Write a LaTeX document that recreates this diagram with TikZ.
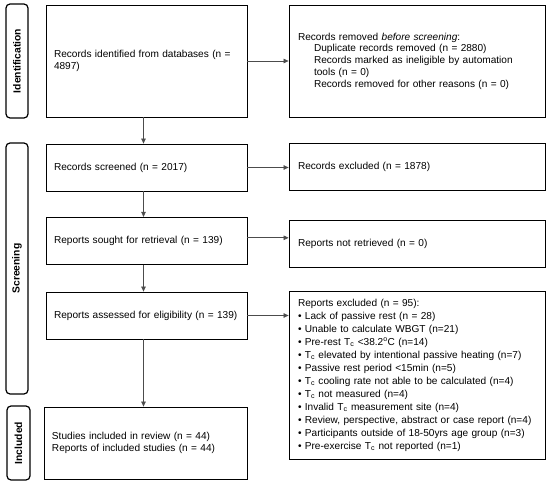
\documentclass[tikz,border=0pt]{standalone}
\usepackage{fontspec}
\setmainfont{Liberation Sans}
\usetikzlibrary{arrows.meta}

\begin{document}
\begin{tikzpicture}[
    x=1pt, y=-1pt,
    box_l/.style={draw,rectangle,line width=0.8pt,minimum width=201pt,text width=185pt,
      inner xsep=8pt,align=left,font=\fontsize{10.1}{12.3}\selectfont},
    box_r/.style={draw,rectangle,line width=0.8pt,minimum width=256pt,text width=238pt,
      inner xsep=9pt,align=left,font=\fontsize{10.1}{11.8}\selectfont},
    phase/.style={draw,rectangle,rounded corners=4pt,line width=1.2pt,rotate=90,
      minimum height=22pt,inner sep=0pt,font=\fontsize{10.3}{12}\selectfont\bfseries},
    link/.style={draw=black!70,line width=0.7pt,-{Triangle[length=5pt,width=4.5pt]}}
  ]
    \useasboundingbox (0,0) rectangle (550,487);

    % phases
    \node[phase,minimum width=114pt] (ph_id) at (17,61) {Identification};
    \node[phase,minimum width=251pt] (ph_scr) at (17,268.5) {Screening};
    \node[phase,minimum width=74pt,minimum height=23pt] (ph_inc) at (18.5,443) {Included};

    % main column
    \node[box_l,minimum height=112pt] (ident) at (146.5,61)
      {Records identified from databases (n =\\4897)};
    \node[box_l,minimum height=47pt] (screened) at (146.5,167.5)
      {Records screened (n = 2017)};
    \node[box_l,minimum height=47pt] (sought) at (146.5,240.8)
      {Reports sought for retrieval (n = 139)};
    \node[box_l,minimum height=47pt] (assessed) at (146.5,315.5)
      {Reports assessed for eligibility (n = 139)};
    \node[box_l,minimum height=72pt,minimum width=203pt,text width=187pt] (included) at (145.5,443)
      {Studies included in review (n = 44)\\Reports of included studies (n = 44)};

    % side column
    \node[box_r,minimum height=112pt] (removed) at (417,61)
      {Records removed \textit{before screening}:\\
       \hspace*{16pt}Duplicate records removed (n = 2880)\\
       \hspace*{16pt}Records marked as ineligible by automation\\
       \hspace*{16pt}tools (n = 0)\\
       \hspace*{16pt}Records removed for other reasons (n = 0)};
    \node[box_r,minimum height=47pt] (rec_exc) at (417,166.5)
      {Records excluded (n = 1878)};
    \node[box_r,minimum height=47pt] (not_ret) at (417,243.5)
      {Reports not retrieved (n = 0)};
    \node[box_r,minimum height=168pt,font=\fontsize{10.1}{13}\selectfont] (rep_exc) at (417,375)
      {Reports excluded (n = 95):\\
       \textbullet\ Lack of passive rest (n = 28)\\
       \textbullet\ Unable to calculate WBGT (n=21)\\
       \textbullet\ Pre-rest T\textsubscript{c} <38.2\textsuperscript{o}C (n=14)\\
       \textbullet\ T\textsubscript{c} elevated by intentional passive heating (n=7)\\
       \textbullet\ Passive rest period <15min (n=5)\\
       \textbullet\ T\textsubscript{c} cooling rate not able to be calculated (n=4)\\
       \textbullet\ T\textsubscript{c} not measured (n=4)\\
       \textbullet\ Invalid T\textsubscript{c} measurement site (n=4)\\
       \textbullet\ Review, perspective, abstract or case report (n=4)\\
       \textbullet\ Participants outside of 18-50yrs age group (n=3)\\
       \textbullet\ Pre-exercise T\textsubscript{c} not reported (n=1)};

    % arrows
    \draw[link] ([xshift=-3pt]ident.south) -- ([xshift=-3pt]screened.north);
    \draw[link] ([xshift=-3pt]screened.south) -- ([xshift=-3pt]sought.north);
    \draw[link] ([xshift=-3pt]sought.south) -- ([xshift=-3pt]assessed.north);
    \draw[link] ([xshift=-3pt]assessed.south) -- ([xshift=-2pt]included.north);
    \draw[link] (ident.east) -- (ident.east -| removed.west);
    \draw[link] (screened.east) -- (screened.east -| rec_exc.west);
    \draw[link] ([yshift=3pt]sought.east) -- ([yshift=3pt]sought.east -| not_ret.west);
    \draw[link] (assessed.east) -- (assessed.east -| rep_exc.west);
  \end{tikzpicture}
\end{document}
